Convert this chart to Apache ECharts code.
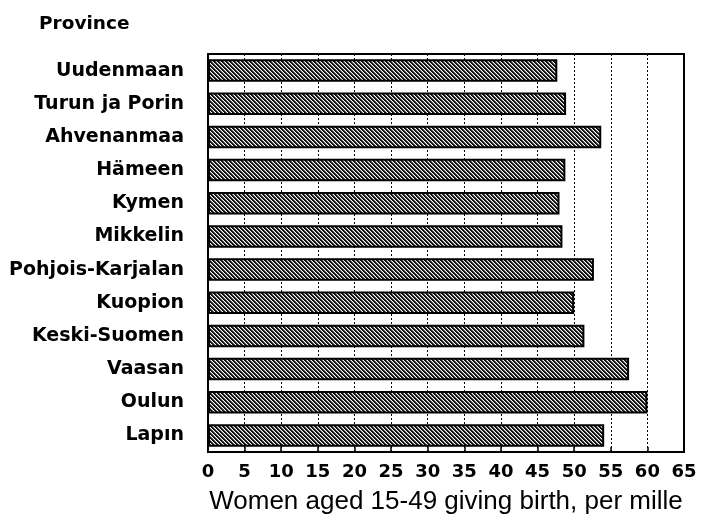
<!DOCTYPE html>
<html>
<head>
<meta charset="utf-8">
<script src="https://cdn.jsdelivr.net/npm/echarts@6/dist/echarts.min.js"></script>
<style>
  html, body { margin: 0; padding: 0; background: #fff; }
  #chart { width: 716px; height: 525px; }
</style>
</head>
<body>
<div id="chart"></div>
<script>
const provinces = ['Uudenmaan', 'Turun ja Porin', 'Ahvenanmaa', 'Hämeen', 'Kymen', 'Mikkelin',
  'Pohjois-Karjalan', 'Kuopion', 'Keski-Suomen', 'Vaasan', 'Oulun', 'Lapın']
const birthRates = [47.7, 48.9, 53.7, 48.8, 48.0, 48.4, 52.7, 50.0, 51.4, 57.5, 60.0, 54.1]
const xTicks = [0, 65, 5]

// hatched fill like the printed original
const hatch = document.createElement('canvas')
hatch.width = 4
hatch.height = 4
const hctx = hatch.getContext('2d')
hctx.fillStyle = '#fff'
hctx.fillRect(0, 0, 4, 4)
hctx.fillStyle = '#111'
for (let i = 0; i < 4; i++) {
  hctx.fillRect(i, i, 1, 1)
  hctx.fillRect((i + 1) % 4, i, 1, 1)
}
hctx.fillStyle = '#777'
for (let i = 0; i < 4; i++) hctx.fillRect((i + 2) % 4, i, 1, 1)

const chart = echarts.init(document.getElementById('chart'))
const labelFont = 'DejaVu Sans'

chart.setOption({
  animation: false,
  title: {
    text: 'Province',
    left: 34,
    top: 10,
    textStyle: { fontFamily: labelFont, fontWeight: 'bold', fontSize: 18.5, color: '#000' }
  },
  grid: {
    left: 208, right: 32, top: 54, bottom: 73,
    show: true, borderColor: '#000', borderWidth: 2
  },
  xAxis: {
    type: 'value',
    min: xTicks[0],
    max: xTicks[1],
    interval: xTicks[2],
    name: 'Women aged 15-49 giving birth, per mille',
    nameLocation: 'middle',
    nameGap: 37,
    nameTextStyle: { fontFamily: 'Liberation Sans', fontSize: 26, color: '#000' },
    axisLine: { show: true, lineStyle: { color: '#000', width: 2 } },
    axisTick: { show: true, inside: true, length: 5, lineStyle: { color: '#000', width: 1.5 } },
    axisLabel: { fontFamily: labelFont, fontWeight: 'bold', fontSize: 18, color: '#000', margin: 11 },
    splitLine: { show: true, lineStyle: { color: '#000', type: [2, 2], width: 1 } }
  },
  yAxis: {
    type: 'category',
    data: provinces,
    inverse: true,
    axisLine: { show: true, lineStyle: { color: '#000', width: 2 } },
    axisTick: { show: false },
    axisLabel: { fontFamily: labelFont, fontWeight: 'bold', fontSize: 19, color: '#000', margin: 24 }
  },
  series: [{
    type: 'bar',
    data: birthRates,
    barCategoryGap: '32%',
    itemStyle: {
      color: { image: hatch, repeat: 'repeat' },
      borderColor: '#000',
      borderWidth: 2
    }
  }]
})
</script>
</body>
</html>
